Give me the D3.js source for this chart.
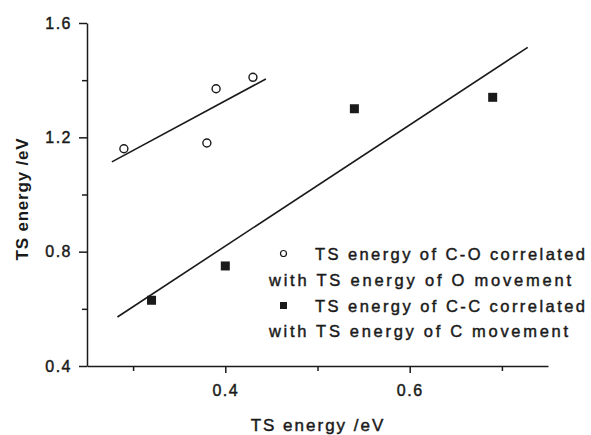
<!DOCTYPE html>
<html>
<head>
<meta charset="utf-8">
<script src="https://cdn.jsdelivr.net/npm/d3@7"></script>
<style>
  html, body { margin: 0; padding: 0; background: #fff; }
  svg { display: block; font-family: "Liberation Sans", Arial, sans-serif; }
  .axis path, .axis line { stroke: #1a1a1a; stroke-width: 1.5; }
  .axis text { font-size: 16px; fill: #1a1a1a; letter-spacing: 1.5px; }
  text.heavy { stroke: #1a1a1a; stroke-width: 0.45px; }
</style>
</head>
<body>
<svg id="chart" width="591" height="435"></svg>
<script>
// tick values
const xMajor = [0.4, 0.6];
const xMinor = [0.3, 0.5, 0.7];
const yMajor = [0.4, 0.8, 1.2, 1.6];
const yMinor = [0.6, 1.0, 1.4];

// C-O series (open circles)
const coX = [0.29, 0.38, 0.39, 0.43];
const coY = [1.16, 1.18, 1.37, 1.41];
const coFitRange = [0.277, 0.444];

// C-C series (filled squares)
const ccX = [0.32, 0.40, 0.54, 0.69];
const ccY = [0.63, 0.75, 1.30, 1.34];
const ccFitRange = [0.283, 0.728];

const legendLines = [
  {marker: 'circle', text: 'TS energy of C-O correlated'},
  {marker: null, text: 'with TS energy of O movement'},
  {marker: 'square', text: 'TS energy of C-C correlated'},
  {marker: null, text: 'with TS energy of C movement'}
];

const svg = d3.select('#chart');

const x = d3.scaleLinear().domain([0.25, 0.75]).range([87, 548]);
const y = d3.scaleLinear().domain([0.4, 1.6]).range([366, 23]);

// least squares line through a series
function fit(xs, ys, range) {
  const mx = d3.mean(xs), my = d3.mean(ys);
  const sxy = d3.sum(xs, (v, i) => (v - mx) * (ys[i] - my));
  const sxx = d3.sum(xs, v => (v - mx) * (v - mx));
  const b = sxy / sxx;
  return range.map(v => [v, my + b * (v - mx)]);
}

// axes
const gx = svg.append('g').attr('class', 'axis').attr('transform', 'translate(0,366)');
gx.call(d3.axisBottom(x).tickValues(xMinor).tickSize(5).tickSizeOuter(0).tickFormat(''));
gx.append('g').call(d3.axisBottom(x).tickValues(xMajor).tickSize(7).tickSizeOuter(0).tickFormat(d3.format('.1f')))
  .call(g => g.select('.domain').remove())
  .selectAll('text').attr('dy', '1.25em').attr('font-size', 16).attr('font-family', null);

const gy = svg.append('g').attr('class', 'axis').attr('transform', 'translate(87,0)');
gy.call(d3.axisLeft(y).tickValues(yMinor).tickSize(5).tickSizeOuter(0).tickFormat(''));
gy.append('g').call(d3.axisLeft(y).tickValues(yMajor).tickSize(8).tickSizeOuter(0).tickFormat(d3.format('.1f')))
  .call(g => g.select('.domain').remove())
  .selectAll('text').attr('x', -15).attr('font-size', 16).attr('font-family', null);

svg.selectAll('.axis text').attr('fill', '#1a1a1a').classed('heavy', true);

// axis titles
svg.append('text')
  .attr('class', 'heavy')
  .attr('x', 318).attr('y', 431)
  .attr('text-anchor', 'middle')
  .attr('font-size', 17).attr('letter-spacing', '2px')
  .attr('fill', '#1a1a1a')
  .text('TS energy /eV');

svg.append('text')
  .attr('transform', 'translate(28,199) rotate(-90)')
  .attr('text-anchor', 'middle')
  .attr('font-size', 17).attr('font-weight', 'bold').attr('letter-spacing', '0.8px')
  .attr('fill', '#1a1a1a')
  .text('TS energy /eV');

// fit lines
const line = d3.line().x(d => x(d[0])).y(d => y(d[1]));
[fit(coX, coY, coFitRange), fit(ccX, ccY, ccFitRange)].forEach(pts => {
  svg.append('path').attr('d', line(pts))
    .attr('fill', 'none').attr('stroke', '#1a1a1a').attr('stroke-width', 1.6);
});

// points
svg.selectAll('circle.co').data(coX).enter().append('circle')
  .attr('class', 'co')
  .attr('cx', d => x(d)).attr('cy', (d, i) => y(coY[i]))
  .attr('r', 4).attr('fill', '#fff').attr('stroke', '#1a1a1a').attr('stroke-width', 1.4);

const sq = 9;
svg.selectAll('rect.cc').data(ccX).enter().append('rect')
  .attr('class', 'cc')
  .attr('x', d => x(d) - sq / 2).attr('y', (d, i) => y(ccY[i]) - sq / 2)
  .attr('width', sq).attr('height', sq).attr('fill', '#1a1a1a');

// legend
const legY = [260, 285.5, 311.5, 337];
const legW = [270, 302, 270, 299];
const leg = svg.append('g');
legendLines.forEach((l, i) => {
  const tx = l.marker ? 315 : 269;
  leg.append('text')
    .attr('class', 'heavy')
    .attr('x', tx).attr('y', legY[i])
    .attr('font-size', 16.5)
    .attr('textLength', legW[i]).attr('lengthAdjust', 'spacing')
    .attr('fill', '#1a1a1a')
    .text(l.text);
  if (l.marker === 'circle') {
    leg.append('circle').attr('cx', 283.5).attr('cy', legY[i] - 6.5).attr('r', 3)
      .attr('fill', '#fff').attr('stroke', '#1a1a1a').attr('stroke-width', 1.2);
  } else if (l.marker === 'square') {
    leg.append('rect').attr('x', 280).attr('y', legY[i] - 9.5).attr('width', 7).attr('height', 7)
      .attr('fill', '#1a1a1a');
  }
});
</script>
</body>
</html>
